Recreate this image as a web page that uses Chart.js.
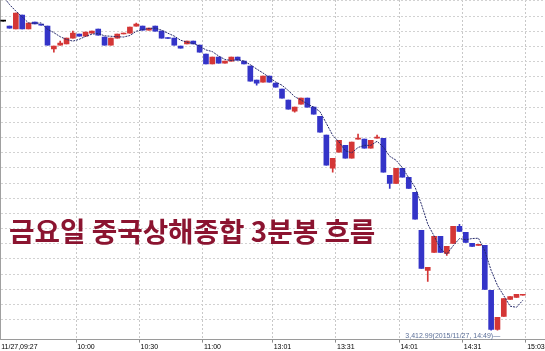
<!DOCTYPE html>
<html>
<head>
<meta charset="utf-8">
<script src="https://cdn.jsdelivr.net/npm/chart.js@4.4.0/dist/chart.umd.min.js"></script>
<style>
  html, body { margin: 0; padding: 0; background: #fff; }
</style>
</head>
<body>
<canvas id="chart" width="545" height="351"></canvas>
<script>
// 3-minute bars, 11/27 09:27 .. 15:00 (SSE Composite)
const opens = [
  3616.7, 3613.4, 3611.5, 3620.7, 3611.5, 3616.0, 3614.3, 3613.4, 3598.3, 3600.9,
  3601.6, 3605.5, 3608.2, 3606.8, 3608.8, 3611.5, 3606.2, 3600.9, 3605.5, 3608.2,
  3608.8, 3613.4, 3613.4, 3610.8, 3613.4, 3610.1, 3605.8, 3605.5, 3600.2, 3601.6,
  3603.5, 3600.9, 3595.0, 3588.4, 3593.0, 3589.0, 3590.3, 3593.0, 3590.3, 3587.0,
  3577.8, 3576.5, 3580.4, 3575.8, 3571.9, 3564.6, 3557.3, 3562.0, 3565.9, 3560.0,
  3554.0, 3541.5, 3519.7, 3530.3, 3534.9, 3526.3, 3538.9, 3538.9, 3532.9, 3539.5,
  3539.5, 3515.1, 3509.8, 3519.7, 3513.8, 3503.9, 3478.8, 3452.4, 3464.3, 3474.8,
  3463.6, 3470.2, 3481.4, 3477.5, 3470.2, 3468.9, 3468.9, 3439.2, 3413.5, 3422.0,
  3433.3, 3434.6, 3436.0
];
const highs = [
  3616.7, 3613.4, 3622.0, 3620.7, 3615.4, 3616.0, 3614.3, 3613.4, 3600.2, 3603.5,
  3605.5, 3610.1, 3608.2, 3609.5, 3610.1, 3611.5, 3606.2, 3605.5, 3608.2, 3608.8,
  3612.7, 3615.4, 3613.4, 3612.1, 3613.4, 3610.1, 3605.8, 3605.5, 3600.2, 3603.5,
  3603.5, 3600.9, 3595.0, 3593.0, 3593.0, 3590.3, 3593.0, 3593.0, 3590.3, 3587.0,
  3577.8, 3580.4, 3580.4, 3575.8, 3571.9, 3564.6, 3560.0, 3565.9, 3565.9, 3560.0,
  3554.0, 3541.5, 3526.3, 3538.2, 3534.9, 3536.9, 3542.2, 3538.9, 3538.2, 3541.5,
  3539.5, 3515.1, 3519.7, 3519.7, 3513.8, 3503.9, 3478.8, 3454.4, 3474.8, 3474.8,
  3468.2, 3481.4, 3482.8, 3477.5, 3470.2, 3469.6, 3468.9, 3439.2, 3421.4, 3433.9,
  3435.2, 3436.6, 3436.3
];
const lows = [
  3616.7, 3612.1, 3611.5, 3611.5, 3611.5, 3614.8, 3614.0, 3600.9, 3596.3, 3600.9,
  3601.6, 3605.5, 3606.8, 3606.8, 3608.8, 3607.5, 3600.9, 3600.9, 3605.5, 3608.2,
  3608.8, 3613.4, 3610.8, 3610.8, 3610.1, 3605.5, 3605.2, 3600.9, 3598.9, 3601.6,
  3601.6, 3596.3, 3588.4, 3588.4, 3589.0, 3589.0, 3590.3, 3591.0, 3588.4, 3577.1,
  3574.5, 3576.5, 3576.5, 3573.2, 3565.9, 3558.7, 3556.7, 3562.0, 3560.0, 3555.4,
  3543.5, 3521.7, 3517.1, 3530.3, 3526.3, 3526.3, 3538.9, 3532.9, 3532.9, 3539.5,
  3517.1, 3506.5, 3509.8, 3513.8, 3506.5, 3486.1, 3453.7, 3445.1, 3464.3, 3464.3,
  3462.3, 3470.2, 3478.1, 3470.9, 3468.2, 3468.9, 3439.9, 3412.99, 3413.0, 3422.0,
  3433.3, 3434.6, 3436.0
];
const closes = [
  3616.7, 3612.1, 3622.0, 3611.5, 3615.4, 3614.8, 3614.0, 3600.9, 3600.2, 3602.2,
  3605.5, 3608.8, 3606.8, 3609.5, 3610.1, 3607.5, 3600.9, 3605.5, 3608.2, 3608.8,
  3612.7, 3614.8, 3610.8, 3612.1, 3610.1, 3605.5, 3605.2, 3600.9, 3598.9, 3603.5,
  3601.6, 3596.3, 3588.4, 3593.0, 3589.0, 3590.3, 3593.0, 3591.0, 3588.4, 3577.1,
  3575.8, 3580.4, 3576.5, 3573.2, 3565.9, 3558.7, 3560.0, 3565.9, 3560.0, 3555.4,
  3543.5, 3521.7, 3526.3, 3538.2, 3526.3, 3536.9, 3539.5, 3532.9, 3538.2, 3540.2,
  3517.1, 3509.8, 3519.7, 3513.8, 3506.5, 3486.1, 3453.7, 3454.4, 3474.8, 3464.3,
  3468.2, 3481.4, 3478.1, 3470.9, 3468.2, 3469.6, 3439.9, 3413.5, 3421.4, 3433.9,
  3435.2, 3436.6, 3436.3
];
// 5-bar moving average line
const ma5 = [
  3633.0, 3627.6, 3623.3, 3619.4, 3615.5, 3615.2, 3615.5, 3611.3, 3609.1, 3606.4,
  3604.6, 3603.5, 3604.7, 3606.6, 3608.1, 3608.5, 3607.0, 3606.7, 3606.4, 3606.2,
  3607.2, 3610.0, 3611.1, 3611.8, 3612.1, 3610.7, 3608.7, 3606.8, 3604.1, 3602.8,
  3602.0, 3600.2, 3597.7, 3596.6, 3593.7, 3591.4, 3590.7, 3591.3, 3590.3, 3588.0,
  3585.1, 3582.5, 3579.6, 3576.6, 3574.4, 3570.9, 3566.9, 3564.7, 3562.1, 3560.0,
  3557.0, 3549.3, 3541.4, 3537.0, 3531.2, 3529.9, 3533.4, 3534.8, 3534.8, 3537.5,
  3533.6, 3527.6, 3525.0, 3520.1, 3513.4, 3507.2, 3496.0, 3482.9, 3475.1, 3466.7,
  3463.1, 3468.6, 3473.4, 3472.6, 3473.4, 3473.6, 3465.3, 3452.4, 3442.5, 3435.7,
  3428.8, 3428.1, 3432.7
];
// time-axis labels and the bar slot they sit on
const tickSlots = [0, 12, 22, 32, 43, 53, 63, 73, 83];
const tickLabels = ['11/27,09:27', '10:00', '10:30', '11:00', '13:01', '13:31', '14:01', '14:31', '15:03'];
const slotCount = 86;

const RED = '#d43636';
const BLUE = '#3434c8';

const slots = Array.from({ length: slotCount }, (_, i) => i);
const bodies = opens.map((o, i) => [o, closes[i]]);
const wicks = lows.map((l, i) => [l, highs[i]]);
const colors = opens.map((o, i) => closes[i] > o ? RED : closes[i] < o ? BLUE : '#000');

const labelAt = i => {
  const k = tickSlots.indexOf(i);
  return k >= 0 ? tickLabels[k] : '';
};

const overlay = {
  id: 'overlay',
  afterDatasetsDraw(chart) {
    const { ctx, scales } = chart;
    // low marker text
    let lowIdx = 0;
    lows.forEach((v, i) => { if (v < lows[lowIdx]) lowIdx = i; });
    const lx = scales.x.getPixelForValue(lowIdx) + 9;
    const ly = scales.y.getPixelForValue(lows[lowIdx]) + 6;
    ctx.save();
    ctx.font = '7px "Liberation Sans"';
    ctx.fillStyle = '#5b6f98';
    ctx.textAlign = 'right';
    ctx.textBaseline = 'middle';
    ctx.fillText('3,412.99(2015/11/27, 14:49)\u2014', lx, ly);
    // caption
    ctx.font = 'bold 27.7px "Noto Sans CJK KR"';
    ctx.fillStyle = '#8b1430';
    ctx.textAlign = 'left';
    ctx.fillText('금요일 중국상해종합 3분봉 흐름', 9, 231);
    ctx.restore();
  }
};

new Chart(document.getElementById('chart'), {
  type: 'bar',
  data: {
    labels: slots,
    datasets: [
      {
        type: 'line',
        data: ma5,
        borderColor: '#262a6a',
        borderWidth: 1,
        borderDash: [2, 1],
        pointRadius: 0,
        tension: 0,
        order: 0
      },
      {
        data: bodies,
        backgroundColor: colors,
        grouped: false,
        barThickness: 5,
        minBarLength: 1,
        order: 1
      },
      {
        data: wicks,
        backgroundColor: colors,
        grouped: false,
        barThickness: 1,
        order: 2
      }
    ]
  },
  options: {
    responsive: false,
    animation: false,
    events: [],
    layout: { padding: 0 },
    plugins: { legend: { display: false }, tooltip: { enabled: false } },
    scales: {
      x: {
        grid: {
          offset: true,
          color: c => labelAt(c.index) ? '#c8c8c8' : 'transparent',
          tickColor: c => labelAt(c.index) ? '#8a8a8a' : 'transparent',
          tickLength: 3
        },
        border: { color: '#9a9a9a', dash: [2, 2] },
        ticks: {
          autoSkip: false,
          maxRotation: 0,
          minRotation: 0,
          align: 'start',
          padding: 0,
          labelOffset: -2,
          color: '#000',
          font: { size: 7, family: '"Liberation Sans"' },
          callback: (v, i) => labelAt(i)
        }
      },
      y: {
        min: 3406.8,
        max: 3630.6,
        ticks: { display: false, stepSize: 10 },
        grid: { drawTicks: false, color: '#d2d2d2' },
        border: { display: true, color: '#a0a0a0', dash: [2, 2] }
      }
    }
  },
  plugins: [overlay]
});
</script>
</body>
</html>
